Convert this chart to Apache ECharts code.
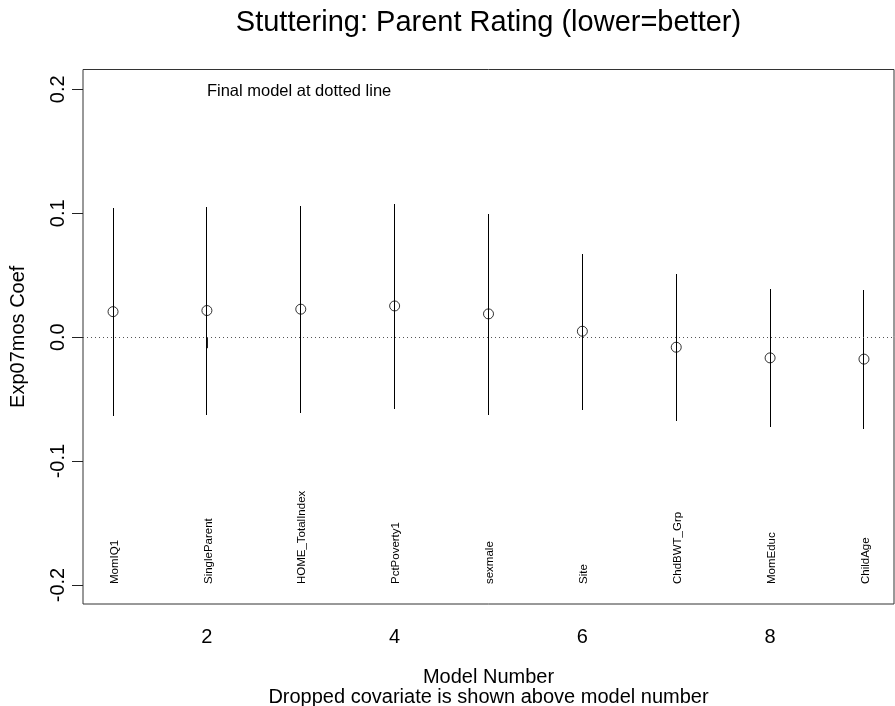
<!DOCTYPE html>
<html>
<head>
<meta charset="utf-8">
<title>Stuttering: Parent Rating (lower=better)</title>
<script src="https://cdn.jsdelivr.net/npm/echarts@6/dist/echarts.min.js"></script>
<style>
  html, body { margin: 0; padding: 0; background: #ffffff; }
  #chart { width: 895px; height: 706px; }
</style>
</head>
<body>
<div id="chart"></div>
<script>
// Backward-elimination path: coefficient of Exp07mos with its interval per model
const models = [1, 2, 3, 4, 5, 6, 7, 8, 9];
const droppedCovariates = ['MomIQ1', 'SingleParent', 'HOME_TotalIndex', 'PctPoverty1',
  'sexmale', 'Site', 'ChdBWT_Grp', 'MomEduc', 'ChildAge'];
const coefEstimate = [0.0206, 0.0215, 0.0226, 0.0252, 0.0188, 0.0048, -0.0081, -0.0167, -0.0177];
const coefLower = [-0.064, -0.0624, -0.0608, -0.0576, -0.0624, -0.0584, -0.068, -0.0726, -0.0742];
const coefUpper = [0.104, 0.105, 0.1059, 0.1075, 0.0994, 0.0674, 0.051, 0.039, 0.0379];
const xTicks = [2, 4, 6, 8];
const yTicks = [-0.2, -0.1, 0.0, 0.1, 0.2];
const labelBaseY = -0.2;
const noteText = 'Final model at dotted line';
const noteAt = [2, 0.2];

const FONT = "'Liberation Sans', Arial, Helvetica, sans-serif";
const chart = echarts.init(document.getElementById('chart'), null, { renderer: 'canvas' });

// snap a coordinate to the pixel centre so 1px strokes stay crisp
const crisp = v => Math.round(v - 0.5) + 0.5;

const option = {
  animation: false,
  backgroundColor: '#ffffff',
  textStyle: { fontFamily: FONT, color: '#000' },
  graphic: [{
    type: 'text',
    x: 488.5, y: 22.5,
    style: {
      text: 'Stuttering: Parent Rating (lower=better)',
      font: '29px ' + FONT,
      fill: '#000',
      align: 'center',
      verticalAlign: 'middle'
    }
  }],
  grid: {
    left: 83, right: 1, top: 69.5, bottom: 102,
    show: true, borderColor: '#333', borderWidth: 1,
    backgroundColor: 'transparent',
    containLabel: false,
    outerBoundsMode: 'none'
  },
  xAxis: {
    type: 'value',
    min: 0.68, max: 9.32,
    name: 'Model Number\nDropped covariate is shown above model number',
    nameLocation: 'middle',
    nameGap: 63,
    nameMoveOverlap: false,
    nameTextStyle: { fontSize: 20, lineHeight: 20, color: '#000', fontFamily: FONT },
    axisLine: { show: false },
    splitLine: { show: false },
    axisTick: { show: true, length: 11, customValues: xTicks, lineStyle: { color: '#222', width: 1 } },
    axisLabel: {
      customValues: xTicks, margin: 23, fontSize: 20, lineHeight: 20, color: '#000', fontFamily: FONT,
      formatter: v => String(v)
    }
  },
  yAxis: {
    type: 'value',
    min: -0.2153, max: 0.216,
    name: 'Exp07mos Coef',
    nameLocation: 'middle',
    nameGap: 55,
    nameRotate: 90,
    nameMoveOverlap: false,
    nameTextStyle: { fontSize: 20, lineHeight: 20, color: '#000', fontFamily: FONT },
    axisLine: { show: false },
    splitLine: { show: false },
    axisTick: { show: true, length: 11, customValues: yTicks, lineStyle: { color: '#222', width: 1 } },
    axisLabel: {
      customValues: yTicks, rotate: 90, margin: 15, fontSize: 20, lineHeight: 20, color: '#000', fontFamily: FONT,
      formatter: v => Number(v).toFixed(1)
    }
  },
  series: [
    {
      // vertical interval bars
      type: 'custom',
      silent: true,
      data: models.map((m, i) => [m, coefLower[i], coefUpper[i]]),
      renderItem: (params, api) => {
        const lo = api.coord([api.value(0), api.value(1)]);
        const hi = api.coord([api.value(0), api.value(2)]);
        const x = crisp(lo[0]);
        return {
          type: 'line',
          shape: { x1: x, y1: Math.round(lo[1]), x2: x, y2: Math.round(hi[1]) },
          style: { stroke: '#000', lineWidth: 1 }
        };
      },
      z: 2
    },
    {
      // point estimates (open circles) and zero reference line
      type: 'scatter',
      silent: true,
      symbol: 'circle',
      symbolSize: 10,
      itemStyle: { color: 'rgba(0,0,0,0)', borderColor: '#000', borderWidth: 1 },
      data: models.map((m, i) => [m, coefEstimate[i]]),
      markLine: {
        silent: true,
        symbol: 'none',
        label: { show: false },
        lineStyle: { color: '#555', width: 1, type: [1, 3] },
        data: [{ yAxis: 0 }]
      },
      z: 3
    },
    {
      // name of the covariate dropped at each step, written upward from the base line
      type: 'custom',
      silent: true,
      data: models.map((m, i) => [m, labelBaseY, droppedCovariates[i]]),
      renderItem: (params, api) => {
        const p = api.coord([api.value(0), api.value(1)]);
        return {
          type: 'text',
          x: p[0] + 1.5, y: p[1] - 1,
          rotation: Math.PI / 2,
          style: {
            text: droppedCovariates[params.dataIndex],
            font: '11.5px ' + FONT,
            fill: '#000',
            align: 'left',
            verticalAlign: 'middle'
          }
        };
      },
      z: 4
    },
    {
      // note inside the plot area
      type: 'custom',
      silent: true,
      data: [noteAt],
      renderItem: (params, api) => {
        const p = api.coord([api.value(0), api.value(1)]);
        return {
          type: 'text',
          x: p[0], y: p[1] + 2,
          style: {
            text: noteText,
            font: '16.5px ' + FONT,
            fill: '#000',
            align: 'left',
            verticalAlign: 'middle'
          }
        };
      },
      z: 4
    }
  ]
};

chart.setOption(option);
</script>
</body>
</html>
